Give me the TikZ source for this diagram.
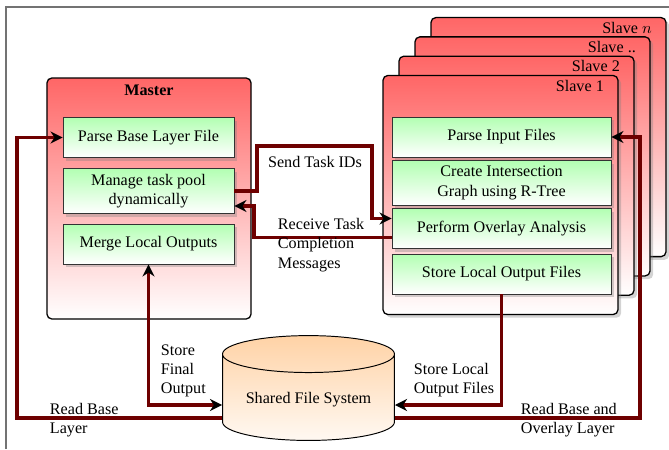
\documentclass[tikz,border=0pt]{standalone}
\usepackage{fontspec}
\setmainfont{Liberation Serif}
\usetikzlibrary{shapes.geometric,shadows,arrows.meta,calc}
\definecolor{linkred}{RGB}{110,0,0}
\begin{document}
\begin{tikzpicture}
	[x=0.62pt,y=-0.62pt,font=\fontsize{10}{12}\selectfont,
	panel/.style={draw=black,line width=0.8pt,rounded corners=3pt,top color=red!60,bottom color=white,minimum width=126.5pt,minimum height=149.4pt},
	slavebox/.style={panel,minimum width=145.7pt,minimum height=148.2pt,drop shadow={shadow xshift=2pt,shadow yshift=-2pt,opacity=0.35}},
	task/.style={draw=black!80,line width=0.5pt,top color=green!30,bottom color=white,align=center,minimum width=106pt,minimum height=24.8pt,drop shadow={shadow xshift=2pt,shadow yshift=-2pt,opacity=0.35}},
	store/.style={cylinder,shape border rotate=90,aspect=0.28,inner sep=2pt,draw=black,line width=0.6pt,top color=orange!35,bottom color=orange!5,minimum width=106.6pt,minimum height=65pt},
	link/.style={draw=linkred,line width=2.3pt,-{Stealth[length=7.5pt,width=7.5pt,black]}},
	note/.style={align=left,anchor=west,inner sep=1pt}]
	\useasboundingbox (0,0) rectangle (669,449);
	\draw[black!55,line width=0.9pt] (6,449) -- (6,7) -- (669,7);
	% master
	\node[panel] (master) at (149,198.5) {};
	\node[font=\fontsize{10}{12}\selectfont\bfseries] (mtitle) at (149,90) {Master};
	\node[task] (pbl) at (148.5,137.5) {Parse Base Layer File};
	\node[task,minimum height=27.3pt] (mtp) at (148.5,191) {Manage task pool\\dynamically};
	\node[task] (mlo) at (148.5,244) {Merge Local Outputs};
	% slaves, back to front
	\foreach \i/\name in {3/$n$,2/..,1/2,0/1}
		\node[slavebox,label={[anchor=north east,inner sep=0pt,xshift=-9pt,yshift=-3pt]north east:{Slave \name}}] (slave\i) at (500.5+16*\i,195-19.3*\i) {};
	\node[task,minimum width=135.8pt] (pif) at (501.5,137) {Parse Input Files};
	\node[task,minimum width=135.8pt,minimum height=27.3pt] (cig) at (501.5,183) {Create Intersection\\Graph using R-Tree};
	\node[task,minimum width=135.8pt] (poa) at (501.5,228.5) {Perform Overlay Analysis};
	\node[task,minimum width=135.8pt] (slo) at (501.5,274) {Store Local Output Files};
	% shared storage
	\node[store] (fs) at (308.5,400) {Shared File System};
	% connectors
	\coordinate (bl) at (17,418);
	\coordinate (br) at (640,418);
	\coordinate (sf) at (149,405);
	\coordinate (s1) at (257,146);
	\coordinate (s2) at (372,146);
	\coordinate (r1) at (254,206);
	\draw[link] (fs.west |- bl) -- (bl) |- (pbl.west);
	\draw[link] (fs.east |- br) -- (br) |- (pif.east);
	\draw[link,{Stealth[length=7.5pt,width=7.5pt,black]}-{Stealth[length=7.5pt,width=7.5pt,black]}] (mlo.south) |- (fs.west |- sf);
	\draw[link] (slo.south) |- (fs.east |- sf);
	\draw[link] (mtp.east) -| (s1) -- (s2) |- ($(poa.west)+(0,-10)$);
	\draw[link] ($(poa.west)+(0,9)$) -| (r1) -- ($(mtp.east)+(0,15)$);
	% labels
	\node (lsend) at (315,162) {Send Task IDs};
	\node[note] (lrecv) at (276,245) {Receive Task\\Completion\\Messages};
	\node[note] (lfinal) at (159,371) {Store\\Final\\Output};
	\node[note] (llocal) at (412,380) {Store Local\\Output Files};
	\node[note] (lbase) at (48,420) {Read Base\\Layer};
	\node[note] (lover) at (519,420) {Read Base and\\Overlay Layer};
\end{tikzpicture}
\end{document}
